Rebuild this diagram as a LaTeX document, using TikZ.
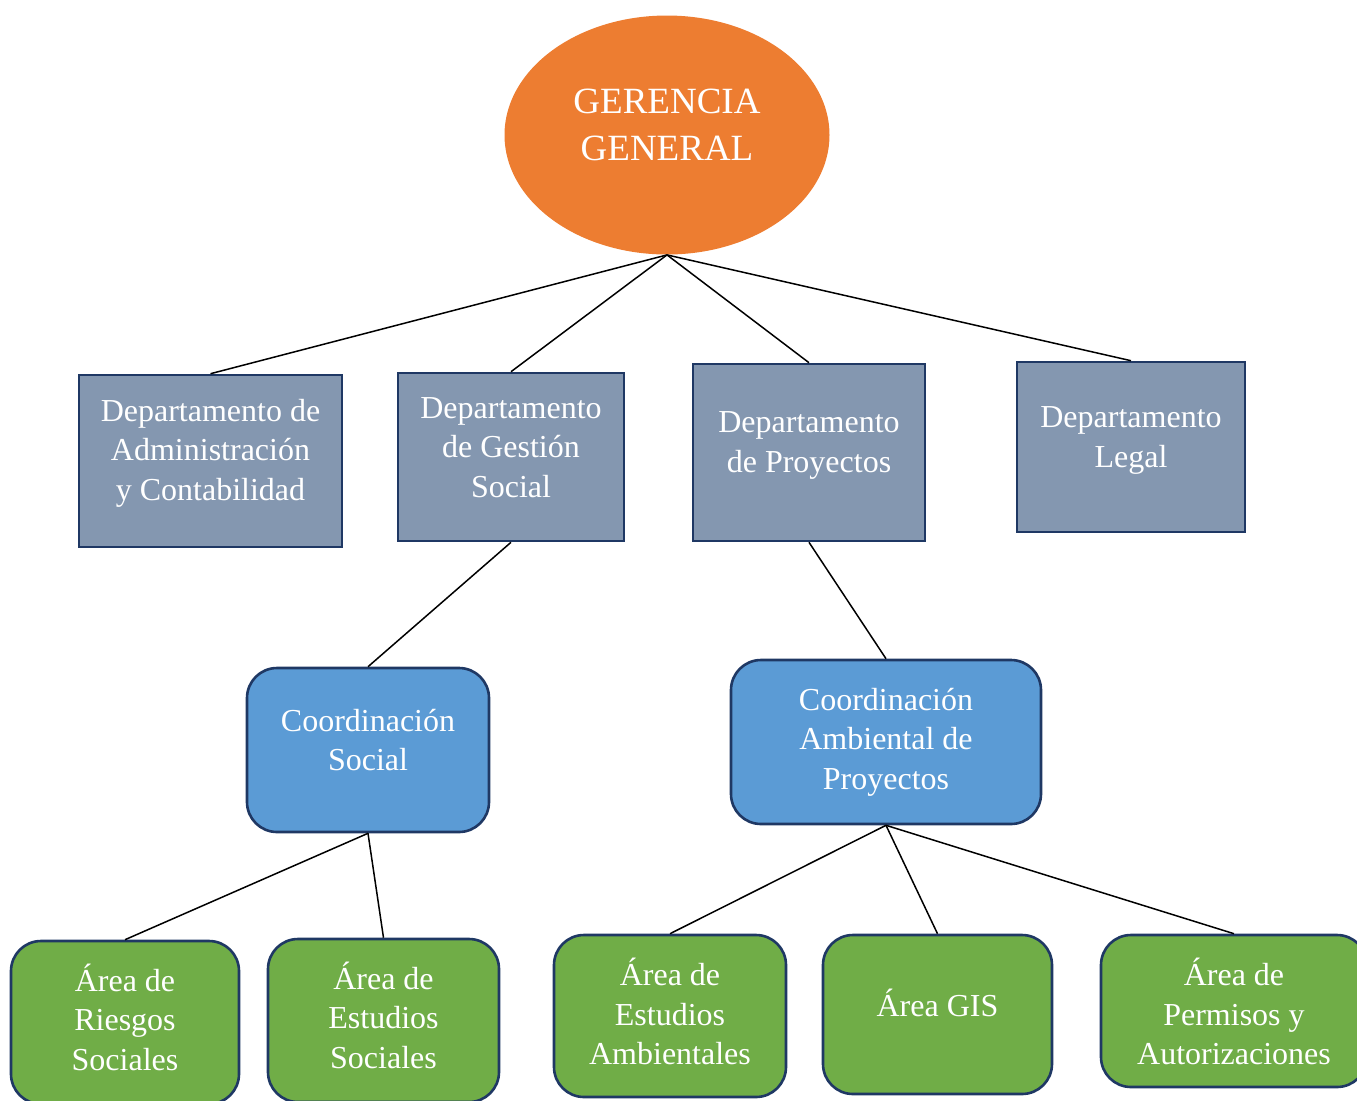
\documentclass[tikz,border=0pt]{standalone}
\usepackage{fontspec}
\setmainfont{Liberation Serif}
\usetikzlibrary{shapes.geometric}
\definecolor{gerorange}{HTML}{ED7D31}
\definecolor{deptgray}{HTML}{8497B0}
\definecolor{coordblue}{HTML}{5B9BD5}
\definecolor{areagreen}{HTML}{70AD47}
\definecolor{darknavy}{HTML}{1F3864}
\tikzset{
  orgline/.style={line width=0.75pt},
  txt/.style={text=white, align=center, font=\fontsize{16}{19.75}\selectfont},
  deptbox/.style={draw=darknavy, fill=deptgray, line width=1.3pt, inner sep=0pt},
  coordbox/.style={deptbox, fill=coordblue, rounded corners=15pt},
  areabox/.style={deptbox, fill=areagreen, rounded corners=15pt},
}

\begin{document}
\begin{tikzpicture}[x=0.5pt,y=-0.5pt]

  \useasboundingbox (0,0) rectangle (1357,1100);
  \clip (0,0) rectangle (1357,1100);

  %% gerencia
  \node[ellipse, fill=gerorange, minimum width=162.5pt, minimum height=119.5pt,
    label={[txt, font=\fontsize{18.5}{23.5}\selectfont, yshift=5.25pt]center:GERENCIA\\GENERAL}]
    (ger) at (667,135) {};

  %% departamentos
  \node[deptbox, minimum width=131.5pt, minimum height=86pt,
    label={[txt,yshift=4pt]center:Departamento de\\Administración\\y Contabilidad}]
    (admin) at (210.5,461) {};
  \node[deptbox, minimum width=113pt, minimum height=84pt,
    label={[txt,yshift=4.75pt]center:Departamento\\de Gestión\\Social}]
    (gestion) at (511,457) {};
  \node[deptbox, minimum width=116pt, minimum height=88.5pt,
    label={[txt,yshift=3.5pt]center:Departamento\\de Proyectos}]
    (proy) at (809,452.5) {};
  \node[deptbox, minimum width=114pt, minimum height=85pt,
    label={[txt,yshift=3.25pt]center:Departamento\\Legal}]
    (legal) at (1131,447) {};

  %% coordinaciones
  \node[coordbox, minimum width=121pt, minimum height=82pt,
    label={[txt,yshift=5pt]center:Coordinación\\Social}]
    (csoc) at (368,750) {};
  \node[coordbox, minimum width=155pt, minimum height=82pt,
    label={[txt,yshift=0pt]center:Coordinación\\Ambiental de\\Proyectos}]
    (camb) at (886,742) {};

  %% areas
  \node[areabox, minimum width=114pt, minimum height=81.5pt,
    label={[txt,yshift=2.75pt]center:Área de\\Riesgos\\Sociales}]
    (riesgos) at (125,1022.5) {};
  \node[areabox, minimum width=115.5pt, minimum height=81.5pt,
    label={[txt,yshift=2.75pt]center:Área de\\Estudios\\Sociales}]
    (estsoc) at (383.5,1020.5) {};
  \node[areabox, minimum width=116pt, minimum height=81pt,
    label={[txt,yshift=2.25pt]center:Área de\\Estudios\\Ambientales}]
    (estamb) at (670,1016) {};
  \node[areabox, minimum width=114.5pt, minimum height=79.5pt,
    label={[txt,yshift=5.75pt]center:Área GIS}]
    (gis) at (937.5,1014.5) {};
  \node[areabox, minimum width=133pt, minimum height=76pt,
    label={[txt,yshift=-0.25pt]center:Área de\\Permisos y\\Autorizaciones}]
    (permisos) at (1234,1011) {};

  %% conectores
  \draw[orgline] (ger.south) -- (admin.north);
  \draw[orgline] (ger.south) -- (gestion.north);
  \draw[orgline] (ger.south) -- (proy.north);
  \draw[orgline] (ger.south) -- (legal.north);
  \draw[orgline] (gestion.south) -- (csoc.north);
  \draw[orgline] (proy.south) -- (camb.north);
  \draw[orgline] (csoc.south) -- (riesgos.north);
  \draw[orgline] (csoc.south) -- (estsoc.north);
  \draw[orgline] (camb.south) -- (estamb.north);
  \draw[orgline] (camb.south) -- (gis.north);
  \draw[orgline] (camb.south) -- (permisos.north);

\end{tikzpicture}
\end{document}
